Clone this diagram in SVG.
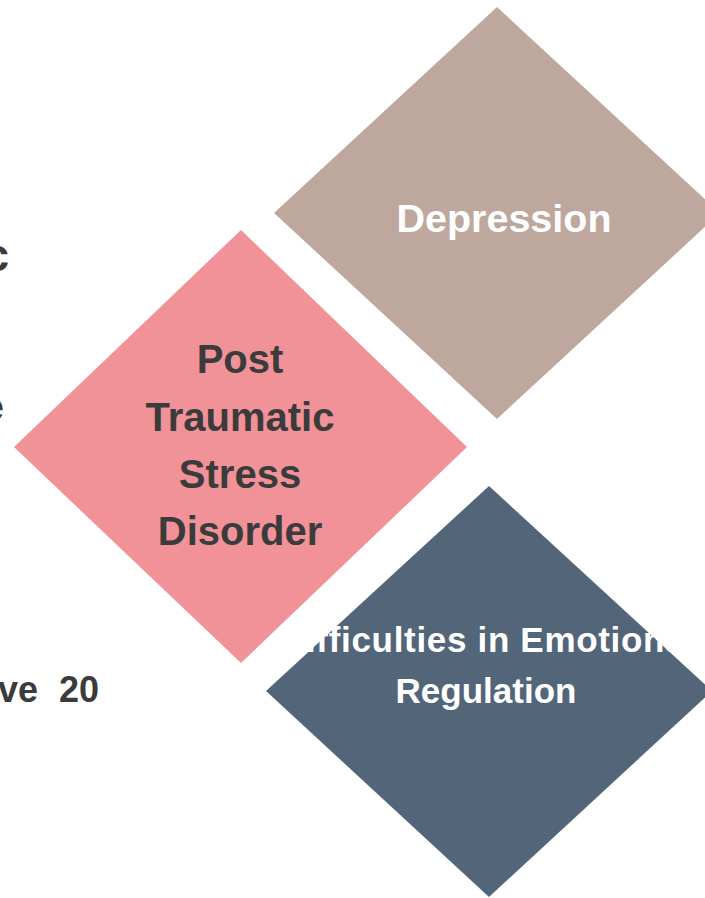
<svg xmlns="http://www.w3.org/2000/svg" width="705" height="898" viewBox="0 0 705 898">
  <style>
    .lbl { font-family: "Liberation Sans", Arial, sans-serif; font-weight: bold; text-anchor: middle; }
    .light { fill: #ffffff; }
    .dark { fill: #3b3b3c; }
    .side { font-family: "Liberation Sans", Arial, sans-serif; font-weight: bold; fill: #3b3b3c; }
  </style>
  <rect x="0" y="0" width="705" height="898" fill="#ffffff"/>

  <!-- text running in from the left margin -->
  <g id="margin-text">
    <text class="side" x="9" y="271" font-size="46" text-anchor="end">c</text>
    <text class="side" x="4" y="420" font-size="38" text-anchor="end">e</text>
    <text class="side" x="38" y="702" font-size="36" text-anchor="end">ve</text>
    <text class="side" x="59" y="702" font-size="36">20</text>
  </g>

  <g id="connectors"/>

  <g id="node-depression">
    <polygon points="497,7 720,213 497,419 274,213" fill="#bea89e"/>
    <text class="lbl light" x="504" y="232" font-size="39.5">Depression</text>
  </g>

  <g id="node-ptsd">
    <polygon points="241,230 467,447 241,663 14,447" fill="#f19198"/>
    <text class="lbl dark" x="240" y="373" font-size="40">Post</text>
    <text class="lbl dark" x="240" y="431" font-size="40">Traumatic</text>
    <text class="lbl dark" x="240" y="488" font-size="40">Stress</text>
    <text class="lbl dark" x="240" y="545" font-size="40">Disorder</text>
  </g>

  <g id="node-emotion-regulation">
    <polygon points="489,486 712,691 489,897 266,691" fill="#536679"/>
    <text class="lbl light" x="487.5" y="652" font-size="35" textLength="415" lengthAdjust="spacing">Difficulties in Emotional</text>
    <text class="lbl light" x="486" y="703" font-size="35">Regulation</text>
  </g>
</svg>
